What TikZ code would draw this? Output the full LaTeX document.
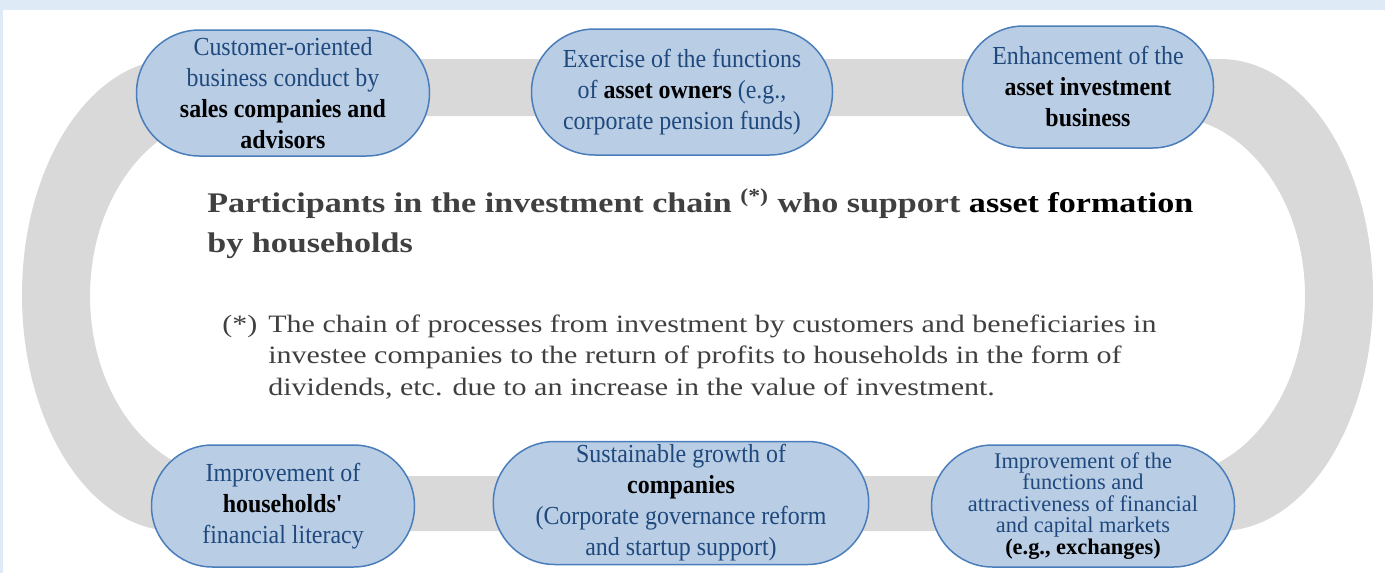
\documentclass[tikz,border=0pt]{standalone}
\usepackage{fontspec}
\setmainfont{Liberation Serif}
\newfontfamily\wideserif[FakeStretch=1.2]{Liberation Serif}
\newfontfamily\narrowserif[FakeStretch=0.92]{Liberation Serif}
\usetikzlibrary{shapes.misc}
\definecolor{framebg}{HTML}{DEEBF7}
\definecolor{ringgrey}{HTML}{D9D9D9}
\definecolor{boxfill}{HTML}{B9CDE5}
\definecolor{boxline}{HTML}{4A7EBB}
\definecolor{boxtext}{HTML}{1F497D}
\definecolor{notegrey}{HTML}{404040}
\newcommand\keyterm[1]{{\bfseries\color{black}#1}}
\tikzstyle{chainbox} = [draw=boxline,fill=boxfill,rounded rectangle,line width=0.75pt,inner sep=0pt,text=boxtext,align=center,font=\narrowserif\fontsize{13}{15.5}\selectfont]
\tikzstyle{ring} = [fill=ringgrey,even odd rule]
\tikzstyle{heading} = [anchor=base west,inner sep=0pt,align=left,text=notegrey,font=\wideserif\fontsize{14.2}{19.75}\selectfont\bfseries]
\tikzstyle{note} = [anchor=base west,inner sep=0pt,align=left,text=notegrey,font=\wideserif\fontsize{12.5}{15.75}\selectfont]

\begin{document}
\begin{tikzpicture}[x=0.5pt,y=-0.5pt]

\useasboundingbox (0,0) rectangle (1385,573);
\fill[framebg] (0,0) rectangle (1385,573);
\fill[white] (3,10) rectangle (1385,573);

\path[ring] (175,59) -- (1220,59) arc[start angle=-90,end angle=90,x radius=153,y radius=236]
  -- (175,531) arc[start angle=90,end angle=270,x radius=153,y radius=236] -- cycle
  (229,116) -- (1166,116) arc[start angle=-90,end angle=90,x radius=139,y radius=180]
  -- (229,476) arc[start angle=90,end angle=270,x radius=139,y radius=180] -- cycle;

\node[chainbox,minimum width=146.5pt,minimum height=63pt] (sales) at (283,93) {Customer-oriented\\business conduct by\\\keyterm{sales companies and}\\\keyterm{advisors}};
\node[chainbox,minimum width=150.5pt,minimum height=63pt] (owners) at (682,92) {Exercise of the functions\\of \keyterm{asset owners} (e.g.,\\corporate pension funds)};
\node[chainbox,minimum width=125.5pt,minimum height=61pt] (managers) at (1088,87) {Enhancement of the\\\keyterm{asset investment}\\\keyterm{business}};
\node[chainbox,minimum width=131.5pt,minimum height=61pt] (literacy) at (283,506) {Improvement of\\\keyterm{households\textquotesingle}\\financial literacy};
\node[chainbox,minimum width=186.5pt,minimum height=61.5pt] (companies) at (681,503) {Sustainable growth of\\\keyterm{companies}\\(Corporate governance reform\\and startup support)};
\node[chainbox,minimum width=151.5pt,minimum height=61pt,font=\rmfamily\fontsize{11.2}{10.75}\selectfont] (markets) at (1083,506) {Improvement of the\\functions and\\attractiveness of financial\\and capital markets\\\keyterm{(e.g., exchanges)}};

\node[heading] (title) at (207,252) {Participants in the investment chain \textsuperscript{(*)} who support \keyterm{asset formation}\\by households};
\node[note] (mark) at (222,332) {(*)};
\node[note] (chain) at (268,395) {The chain of processes from investment by customers and beneficiaries in\\investee companies to the return of profits to households in the form of\\dividends, etc. due to an increase in the value of investment.};

\end{tikzpicture}
\end{document}
